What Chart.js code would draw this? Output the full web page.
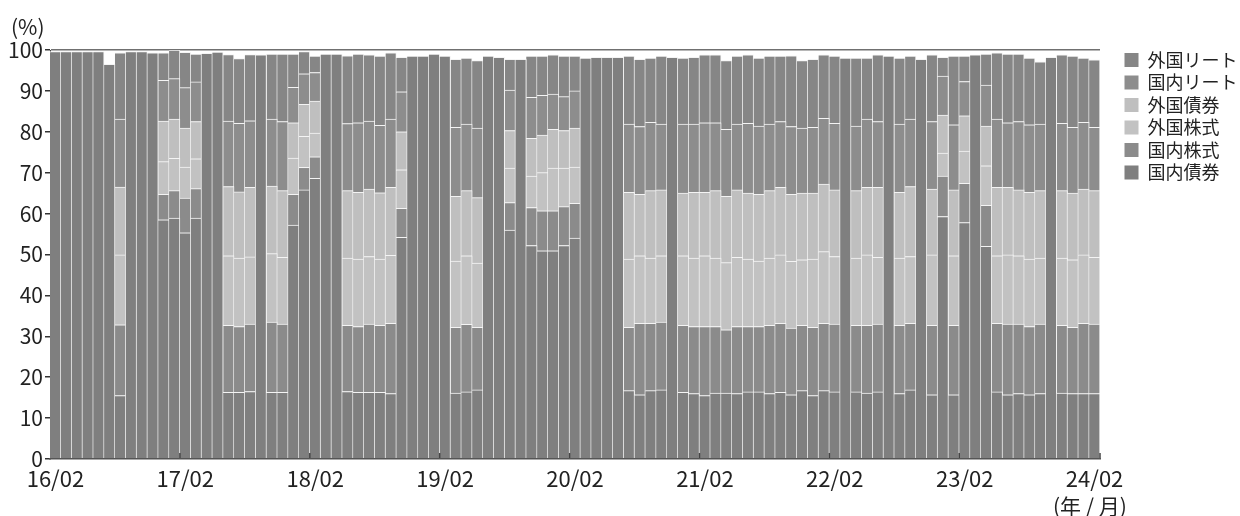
<!DOCTYPE html>
<html lang="ja">
<head>
<meta charset="utf-8">
<title>資産配分の推移</title>
<script src="https://cdn.jsdelivr.net/npm/chart.js@4.4.1/dist/chart.umd.min.js"></script>
<style>
  html, body { margin: 0; padding: 0; background: #fff; }
  #wrap { position: relative; width: 1240px; height: 516px; overflow: hidden;
          font-family: "Noto Sans CJK JP", sans-serif; color: #222; }
  .unit { position: absolute; font-size: 21px; line-height: 1; white-space: nowrap; }
  #unit-y { left: 11px; top: 16px; }
  #unit-x { left: 1053px; top: 495px; }
</style>
</head>
<body>
<div id="wrap">
  <canvas id="allocChart" width="1240" height="516"></canvas>
  <div class="unit" id="unit-y">(%)</div>
  <div class="unit" id="unit-x">(年 / 月)</div>
</div>
<script>
// monthly points, 2016/02 .. 2024/02
const months = [];
for (let i = 0; i < 97; i++) {
  const t = 16 * 12 + 1 + i;
  const mm = t % 12 + 1;
  months.push(Math.floor(t / 12) + '/' + (mm < 10 ? '0' + mm : mm));
}
const tickLabels = ['16/02', '17/02', '18/02', '19/02', '20/02', '21/02', '22/02', '23/02', '24/02'];

const seriesNames = ['国内債券', '国内株式', '外国株式', '外国債券', '国内リート', '外国リート'];
const seriesColors = ['#7f7f7f', '#8b8b8b', '#c2c2c2', '#bfbfbf', '#8d8d8d', '#868686'];

// values in %
const kokunaiSaiken = [
  99.6, 99.6, 99.6, 99.6, 99.6, 96.5, 15.5, 99.6, 99.6, 99.3,
  58.5, 58.9, 55.3, 58.9, 99.2, 99.5, 16.3, 16.3, 16.5, 98.8,
  16.3, 16.3, 57.2, 65.8, 68.6, 99.0, 99.0, 16.5, 16.3, 16.3,
  16.3, 16.0, 54.2, 98.5, 98.5, 99.0, 98.5, 16.1, 16.4, 16.9,
  98.5, 98.2, 56.0, 97.7, 52.2, 50.9, 50.9, 52.2, 54.0, 98.0,
  98.2, 98.2, 98.2, 16.7, 15.7, 16.7, 16.9, 98.2, 16.3, 16.0,
  15.5, 16.1, 16.1, 16.0, 16.4, 16.4, 16.0, 16.3, 15.7, 16.7,
  15.5, 16.7, 16.4, 98.0, 16.4, 16.1, 16.4, 98.5, 16.0, 16.9,
  97.7, 15.7, 59.3, 15.7, 57.8, 98.8, 52.0, 16.4, 15.7, 16.0,
  15.7, 16.0, 98.2, 16.1, 16.0, 16.0, 16.0
];
const kokunaiKabu = [
  0, 0, 0, 0, 0, 0, 17.3, 0, 0, 0,
  6.2, 6.7, 8.5, 7.2, 0, 0, 16.4, 16.1, 16.5, 0,
  17.2, 16.7, 7.5, 5.5, 5.3, 0, 0, 16.2, 16.1, 16.7,
  16.4, 17.2, 7.1, 0, 0, 0, 0, 16.1, 16.5, 15.3,
  0, 0, 6.7, 0, 9.3, 9.8, 9.8, 9.5, 8.5, 0,
  0, 0, 0, 15.5, 17.5, 16.5, 16.6, 0, 16.4, 16.4,
  16.9, 16.3, 15.5, 16.4, 16.0, 16.0, 16.7, 16.9, 16.3, 16.0,
  16.7, 16.5, 16.6, 0, 16.3, 16.6, 16.6, 0, 16.7, 16.3,
  0, 17.0, 9.9, 17.0, 9.6, 0, 10.0, 16.8, 17.3, 17.0,
  16.7, 17.0, 0, 16.6, 16.2, 17.2, 17.0
];
const gaikokuKabu = [
  0, 0, 0, 0, 0, 0, 17.1, 0, 0, 0,
  8.0, 7.9, 7.6, 7.3, 0, 0, 17.0, 16.7, 16.4, 0,
  16.7, 16.3, 8.9, 7.6, 5.8, 0, 0, 16.4, 16.5, 16.5,
  16.2, 16.6, 9.4, 0, 0, 0, 0, 16.2, 16.8, 15.7,
  0, 0, 8.4, 0, 7.7, 9.3, 10.4, 9.4, 8.9, 0,
  0, 0, 0, 16.7, 16.5, 15.9, 16.2, 0, 17.0, 16.7,
  17.3, 16.7, 16.4, 16.9, 16.5, 16.0, 16.4, 16.7, 16.3, 16.0,
  16.7, 17.5, 16.5, 0, 16.4, 17.2, 16.3, 0, 16.4, 16.3,
  0, 17.2, 5.6, 17.0, 7.9, 0, 9.7, 16.5, 16.9, 16.7,
  16.5, 16.1, 0, 16.4, 16.5, 16.7, 16.3
];
const gaikokuSaiken = [
  0, 0, 0, 0, 0, 0, 16.6, 0, 0, 0,
  9.9, 9.6, 9.5, 9.1, 0, 0, 16.9, 16.2, 17.0, 0,
  16.5, 16.3, 8.6, 7.8, 7.8, 0, 0, 16.5, 16.3, 16.5,
  16.2, 16.6, 9.3, 0, 0, 0, 0, 15.8, 15.9, 16.0,
  0, 0, 9.2, 0, 9.2, 9.2, 9.5, 9.2, 9.5, 0,
  0, 0, 0, 16.3, 15.0, 16.5, 16.1, 0, 15.3, 16.1,
  15.5, 16.5, 16.2, 16.5, 16.1, 16.3, 16.5, 16.5, 16.4, 16.3,
  16.1, 16.5, 16.3, 0, 16.5, 16.5, 17.1, 0, 16.1, 17.1,
  0, 16.1, 9.3, 16.1, 8.6, 0, 9.7, 16.7, 16.5, 16.1,
  16.3, 16.5, 0, 16.5, 16.3, 16.1, 16.3
];
const kokunaiReit = [
  0, 0, 0, 0, 0, 0, 16.6, 0, 0, 0,
  10.0, 9.9, 9.9, 9.7, 0, 0, 16.0, 16.8, 16.3, 0,
  16.4, 16.9, 8.7, 7.5, 7.0, 0, 0, 16.4, 17.0, 16.6,
  16.5, 16.7, 9.8, 0, 0, 0, 0, 16.9, 16.3, 17.0,
  0, 0, 9.9, 0, 10.0, 9.7, 8.6, 8.3, 9.1, 0,
  0, 0, 0, 16.7, 16.6, 16.7, 16.1, 0, 16.9, 16.7,
  17.0, 16.6, 16.4, 16.1, 17.1, 16.7, 16.3, 16.1, 16.6, 15.9,
  16.1, 16.1, 16.3, 0, 15.8, 16.7, 16.1, 0, 16.7, 16.5,
  0, 16.5, 9.5, 15.9, 8.4, 0, 10.0, 16.7, 15.8, 16.7,
  16.5, 16.3, 0, 16.5, 16.1, 16.3, 15.5
];
const gaikokuReit = [
  0, 0, 0, 0, 0, 0, 16.2, 0, 0, 0,
  6.7, 7.0, 8.6, 6.8, 0, 0, 16.3, 15.8, 16.2, 0,
  15.9, 16.5, 8.1, 5.4, 4.0, 0, 0, 16.6, 16.8, 16.2,
  16.9, 16.2, 8.4, 0, 0, 0, 0, 16.6, 16.1, 16.5,
  0, 0, 7.5, 0, 10.1, 9.6, 9.6, 9.9, 8.5, 0,
  0, 0, 0, 16.6, 16.4, 15.7, 16.6, 0, 16.1, 16.3,
  16.6, 16.6, 16.8, 16.6, 16.7, 16.6, 16.6, 16.0, 17.3, 16.5,
  16.6, 15.5, 16.4, 0, 16.6, 14.9, 16.3, 0, 16.1, 15.4,
  0, 16.3, 4.6, 16.8, 6.2, 0, 7.6, 16.2, 16.8, 16.5,
  16.3, 15.2, 0, 16.7, 17.4, 15.7, 16.5
];
const seriesValues = [kokunaiSaiken, kokunaiKabu, gaikokuKabu, gaikokuSaiken, kokunaiReit, gaikokuReit];

const FONT = '"Noto Sans CJK JP", sans-serif';

// legend sits in a fixed 140px strip on the right
const legendPlace = {
  id: 'legendPlace',
  afterInit(chart) {
    const lg = chart.legend;
    const fit = lg.fit;
    lg.fit = function () { fit.call(this); this.width = 140; };
  },
  afterLayout(chart) {
    const lg = chart.legend;
    lg.left += 20; lg.right += 20;
    lg.top -= 3.5; lg.bottom -= 3.5;
  }
};

// small year ticks standing on the baseline, drawn over the bars
const yearTicks = {
  id: 'yearTicks',
  afterDatasetsDraw(chart) {
    const x = chart.scales.x;
    const ctx = chart.ctx;
    const bottom = chart.chartArea.bottom;
    const step = x.getPixelForValue(1) - x.getPixelForValue(0);
    const marks = [];
    months.forEach((m, i) => {
      if (i > 0 && i < months.length - 1 && i % 12 === 0) marks.push(x.getPixelForValue(i) - step / 2);
    });
    marks.push(chart.chartArea.right);
    ctx.save();
    ctx.strokeStyle = '#444';
    ctx.lineWidth = 1.5;
    marks.forEach(px => {
      ctx.beginPath();
      ctx.moveTo(px, bottom);
      ctx.lineTo(px, bottom - 6);
      ctx.stroke();
    });
    ctx.restore();
  }
};

const datasets = seriesNames.map((name, k) => ({
  label: name,
  data: seriesValues[k],
  backgroundColor: seriesColors[k],
  borderColor: '#f4f4f4',
  borderWidth: { top: 1, right: 1, bottom: 0, left: 0 },
  borderSkipped: false,
  barPercentage: 1,
  categoryPercentage: 1
}));

new Chart(document.getElementById('allocChart'), {
  type: 'bar',
  data: { labels: months, datasets: datasets },
  plugins: [legendPlace, yearTicks],
  options: {
    responsive: false,
    animation: false,
    devicePixelRatio: 1,
    layout: { padding: { top: 50, right: 0, bottom: 0, left: 0 } },
    plugins: {
      tooltip: { enabled: false },
      legend: {
        position: 'right',
        align: 'start',
        fullSize: false,
        reverse: true,
        labels: {
          boxWidth: 14,
          boxHeight: 14,
          padding: 4.5,
          color: '#222',
          font: { family: FONT, size: 18 },
          generateLabels(chart) {
            return Chart.defaults.plugins.legend.labels.generateLabels(chart)
              .map(item => Object.assign(item, { lineWidth: 0 }));
          }
        }
      }
    },
    scales: {
      x: {
        stacked: true,
        grid: { display: false, offset: true },
        border: { display: true, color: '#555', width: 1.5, z: 1 },
        ticks: {
          autoSkip: false,
          maxRotation: 0,
          padding: -2,
          color: '#222',
          font: { family: FONT, size: 22 },
          callback(value) {
            const lab = this.getLabelForValue(value);
            return tickLabels.includes(lab) ? lab : '';
          }
        },
        afterFit(scale) { scale.height = 57; }
      },
      y: {
        stacked: true,
        min: 0,
        max: 100,
        ticks: {
          stepSize: 10,
          padding: 2,
          color: '#222',
          font: { family: FONT, size: 21 }
        },
        grid: {
          color: c => (c.tick && c.tick.value === 100 ? '#707070' : 'rgba(0,0,0,0)'),
          lineWidth: 1.5,
          tickLength: 5,
          tickColor: '#333'
        },
        border: { display: true, color: '#444', width: 1 },
        afterFit(scale) { scale.width = 50; }
      }
    }
  }
});
</script>
</body>
</html>
